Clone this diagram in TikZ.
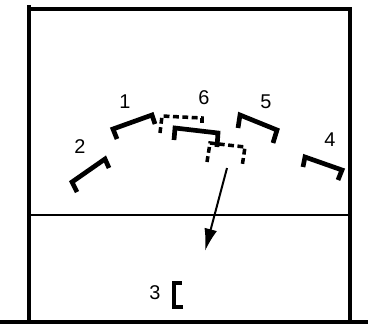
\documentclass[tikz,border=0pt]{standalone}
\usepackage{fontspec}
\setmainfont{Liberation Sans}
\usepackage{tikz}
\usetikzlibrary{arrows.meta}

\tikzset{
  campo/.style={line width=2.6pt},
  giocatore/.style={line width=4pt, line join=miter},
  spostamento/.style={giocatore, line width=3pt, dash pattern=on 5pt off 3pt},
  numero/.style={font=\fontsize{17}{20}\selectfont}
}

\begin{document}
\begin{tikzpicture}[x=0.03cm, y=-0.03cm]
\useasboundingbox (0,0) rectangle (371,325);

% Campo
\draw[campo] (29,5) -- (29,322);
\draw[campo] (29,9) -- (350,9) -- (350,322);
\draw[line width=1.9pt] (29,215) -- (350,215);
\draw[campo] (0,322) -- (368,322);

% Giocatori
\draw[giocatore] (117,139) -- (113,129) -- (152,115) -- (155,124);
\draw[giocatore] (77,192) -- (72,182) -- (105,159) -- (109,168);
\draw[giocatore] (174,140) -- (175,128) -- (218,133) -- (217,147);
\draw[giocatore] (238,128) -- (240,115) -- (277,130) -- (273,143);
\draw[giocatore] (303,167) -- (305,157) -- (342,170) -- (338,180);
\draw[giocatore] (183,307) -- (174,307) -- (174,283) -- (182,283);

% Posizioni tratteggiate
\draw[spostamento] (160,133) -- (162,116) -- (202,118) -- (202,125);
\draw[spostamento] (207,162) -- (210,143) -- (245,147) -- (242,167);

% Numeri
\node[numero] (n1) at (125,102) {1};
\node[numero] (n2) at (80,147) {2};
\node[numero] (n3) at (155,293) {3};
\node[numero] (n4) at (330,140) {4};
\node[numero] (n5) at (266,102) {5};
\node[numero] (n6) at (204,98) {6};

% Freccia
\coordinate (partenza) at (227,168);
\coordinate (arrivo) at (205,251);
\draw[-{Latex[length=19pt,width=11pt]}, line width=1.7pt] (partenza) -- (arrivo);

\end{tikzpicture}
\end{document}
